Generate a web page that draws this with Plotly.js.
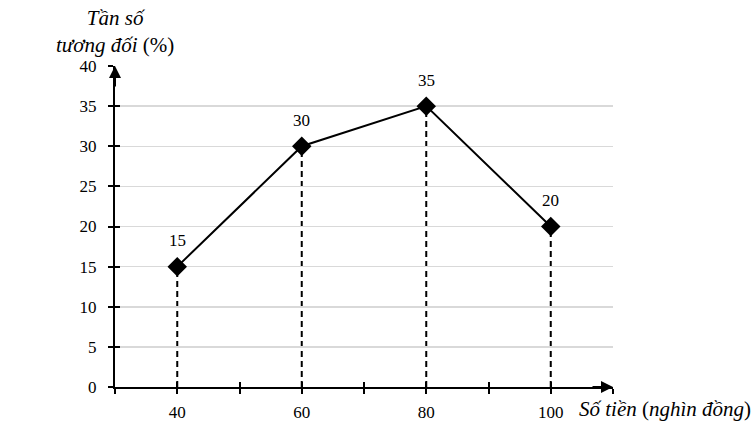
<!DOCTYPE html>
<html><head><meta charset="utf-8">
<script src="https://cdn.plot.ly/plotly-3.0.1.min.js"></script>
<style>html,body{margin:0;padding:0;background:#fff}#chart{width:754px;height:443px}</style>
</head><body><div id="chart"></div>
<script>
const moneyLevels = [40, 60, 80, 100];
const relFreq = [15, 30, 35, 20];
const xTickVals = [30, 40, 50, 60, 70, 80, 90, 100, 110];
const xTickText = ['', '40', '', '60', '', '80', '', '100', ''];
const yTickVals = [0, 5, 10, 15, 20, 25, 30, 35, 40];
const gridVals = [5, 10, 15, 20, 25, 30, 35];

const FONT = 'Liberation Serif, Times New Roman, serif';

const traces = [{
  x: moneyLevels, y: relFreq, type: 'scatter', mode: 'lines+markers',
  line: {color: '#000', width: 2},
  marker: {symbol: 'diamond', size: 15, color: '#000'},
  cliponaxis: false, hoverinfo: 'skip'
}];

const shapes = moneyLevels.map((xv, i) => ({
  type: 'line', xref: 'x', yref: 'y', x0: xv, x1: xv, y0: 0, y1: relFreq[i],
  line: {color: '#000', width: 2, dash: '6px,4px'}, layer: 'below'
}));

const valueLabels = moneyLevels.map((xv, i) => ({
  xref: 'x', yref: 'y', x: xv, y: relFreq[i], yshift: 26, showarrow: false,
  text: String(relFreq[i]), font: {family: FONT, size: 17, color: '#000'}
}));

const layout = {
  width: 754, height: 443,
  margin: {l: 115, r: 141, t: 66, b: 56},
  paper_bgcolor: '#fff', plot_bgcolor: '#fff',
  showlegend: false,
  font: {family: FONT, size: 17, color: '#000'},
  xaxis: {
    range: [30, 110], tickvals: xTickVals, ticktext: xTickText,
    ticks: 'outside', ticklen: 5, tickwidth: 2, tickcolor: '#000',
    showgrid: false, zeroline: false, showline: true, linecolor: '#000', linewidth: 2,
    ticklabelstandoff: 4, tickfont: {family: FONT, size: 17}
  },
  xaxis2: {
    overlaying: 'x', range: [30, 110], tickvals: xTickVals, showticklabels: false,
    ticks: 'inside', ticklen: 5, tickwidth: 2, tickcolor: '#000',
    showgrid: false, zeroline: false, showline: false
  },
  yaxis: {
    range: [0, 40], tickvals: yTickVals,
    ticks: 'outside', ticklen: 5, tickwidth: 2, tickcolor: '#000',
    showgrid: false, zeroline: false, showline: true, linecolor: '#000', linewidth: 2,
    ticklabelstandoff: 8, tickfont: {family: FONT, size: 17}
  },
  yaxis2: {
    overlaying: 'y', range: [0, 40], tickvals: yTickVals, showticklabels: false,
    ticks: 'inside', ticklen: 5, tickwidth: 2, tickcolor: '#000',
    showgrid: false, zeroline: false, showline: false
  },
  yaxis3: {
    overlaying: 'y', range: [0, 40], tickvals: gridVals, showticklabels: false,
    ticks: '', showgrid: true, gridcolor: '#d9d9d9', gridwidth: 1.5,
    zeroline: false, showline: false, layer: 'below traces'
  },
  shapes: shapes,
  annotations: valueLabels.concat([
    {xref: 'paper', yref: 'paper', x: 0, y: 1, ax: 0, ay: 22, axref: 'pixel', ayref: 'pixel',
     showarrow: true, arrowhead: 2, arrowsize: 1.2, arrowwidth: 2, arrowcolor: '#000', text: ''},
    {xref: 'paper', yref: 'paper', x: 1, y: 0, ax: -22, ay: 0,
     showarrow: true, arrowhead: 2, arrowsize: 1.2, arrowwidth: 2, arrowcolor: '#000', text: ''},
    {xref: 'paper', yref: 'paper', x: 0, y: 1.108, xanchor: 'center', yanchor: 'middle',
     showarrow: false, align: 'center',
     text: '<i>Tần số</i><br><i>tương đối</i> (%)', font: {family: FONT, size: 21, color: '#000'}},
    {xref: 'paper', yref: 'paper', x: 0.928, y: -0.07, xanchor: 'left', yanchor: 'middle',
     showarrow: false,
     text: '<i>Số tiền</i> (<i>nghìn đồng</i>)', font: {family: FONT, size: 21, color: '#000'}}
  ])
};

// invisible traces to activate the overlay axes
traces.push({x: [30], y: [0], xaxis: 'x2', yaxis: 'y2', mode: 'markers', marker: {opacity: 0}, hoverinfo: 'skip'});
traces.push({x: [30], y: [0], xaxis: 'x', yaxis: 'y3', mode: 'markers', marker: {opacity: 0}, hoverinfo: 'skip'});

Plotly.newPlot('chart', traces, layout, {staticPlot: true, displayModeBar: false});
</script></body></html>
